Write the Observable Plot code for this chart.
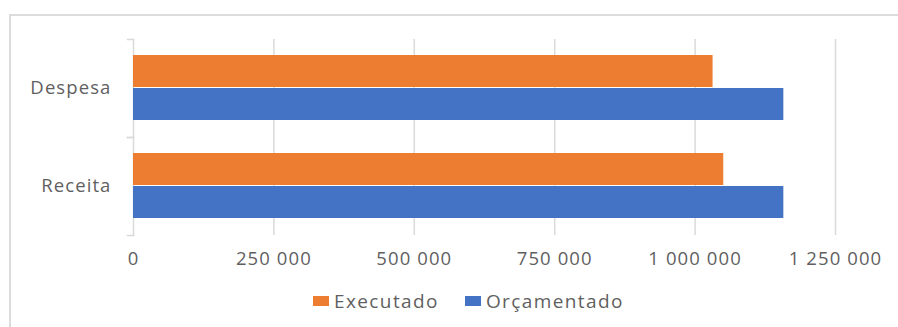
<!DOCTYPE html>
<html>
<head>
<meta charset="utf-8">
<script src="https://cdn.jsdelivr.net/npm/d3@7"></script>
<script src="https://cdn.jsdelivr.net/npm/@observablehq/plot@0.6"></script>
<style>
  html, body { margin: 0; padding: 0; background: #fff; overflow: hidden; }
  body { width: 898px; height: 327px; position: relative; font-family: "Open Sans", sans-serif; }
  #frame { position: absolute; left: 9px; top: 14px; width: 900px; height: 320px; border: 2px solid #dcdcdc; box-sizing: border-box; }
  #chart { position: absolute; left: 0; top: 0; }
  #legend { position: absolute; top: 288px; left: 313px; display: flex; gap: 26px; font-size: 19px; letter-spacing: 1.4px; color: #5f5f5f; line-height: 26px; }
  #legend span.item { display: inline-flex; align-items: center; gap: 5px; }
  #legend span.sw { width: 16px; height: 10px; display: inline-block; }
  svg text { letter-spacing: 1.1px; }
</style>
</head>
<body>
<div id="frame"></div>
<div id="chart"></div>
<div id="legend"></div>
<script>
const categories = ["Despesa", "Receita"];
const seriesNames = ["Executado", "Orçamentado"];
const executado = [1032000, 1051000];
const orcamentado = [1158000, 1158000];
const xTicks = [0, 250000, 500000, 750000, 1000000, 1250000];
const colors = ["#ED7D31", "#4472C4"];

const data = [];
categories.forEach((c, i) => {
  data.push({cat: c, series: seriesNames[0], value: executado[i]});
  data.push({cat: c, series: seriesNames[1], value: orcamentado[i]});
});

const fmt = d3.formatLocale({decimal: ",", thousands: " ", grouping: [3], currency: ["", ""]}).format(",d");

const W = 898, H = 280;
const plot = Plot.plot({
  width: W,
  height: H,
  marginLeft: 133,
  marginRight: 63,
  marginTop: 38,
  marginBottom: H - 235,
  style: {fontFamily: "'Open Sans', sans-serif", color: "#5f5f5f", background: "transparent", overflow: "visible"},
  x: {domain: [0, 1250000], axis: null},
  y: {domain: seriesNames, axis: null, paddingInner: 0.03, paddingOuter: 0.48},
  fy: {domain: categories, padding: 0, label: null, axis: null},
  color: {domain: seriesNames, range: colors},
  marks: [
    Plot.gridX(xTicks.slice(1), {stroke: "#dadada", strokeOpacity: 1, strokeWidth: 1.5}),
    Plot.frame({anchor: "left", stroke: "#dadada", strokeWidth: 1.5}),
    Plot.frame({anchor: "top", stroke: "#dadada", strokeWidth: 1.5, insetLeft: -6, insetRight: 702}),
    Plot.frame({anchor: "bottom", stroke: "#dadada", strokeWidth: 1.5, insetLeft: -6, insetRight: 702}),
    Plot.barX(data, {x: "value", y: "series", fy: "cat", fill: "series"}),
    Plot.axisFy({anchor: "left", tickSize: 0, tickPadding: 22, fontSize: 18.5, label: null}),
    Plot.axisX(xTicks, {anchor: "bottom", tickSize: 0, tickPadding: 16, fontSize: 18.5, tickFormat: fmt, label: null, facetAnchor: "bottom"})
  ]
});
document.getElementById("chart").appendChild(plot);

const legend = document.getElementById("legend");
seriesNames.forEach((s, i) => {
  const item = document.createElement("span");
  item.className = "item";
  const sw = document.createElement("span");
  sw.className = "sw";
  sw.style.background = colors[i];
  item.appendChild(sw);
  item.appendChild(document.createTextNode(s));
  legend.appendChild(item);
});
</script>
</body>
</html>
